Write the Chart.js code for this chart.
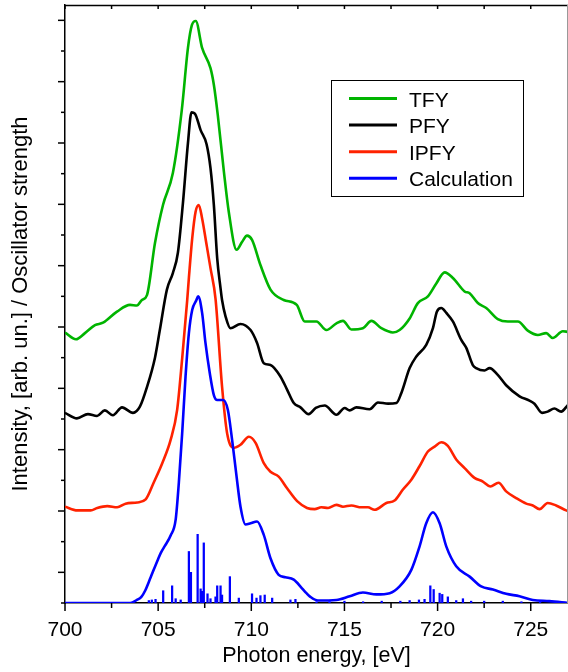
<!DOCTYPE html>
<html>
<head>
<meta charset="utf-8">
<style>
html,body{margin:0;padding:0;background:#fff;}
#wrap{width:568px;height:672px;position:relative;}
</style>
<script src="https://cdn.jsdelivr.net/npm/chart.js@4/dist/chart.umd.min.js"></script>
</head>
<body>
<div id="wrap"><canvas id="c" width="568" height="672"></canvas></div>
<script>
// ---- Data (photon energy in eV, intensity in arb. units incl. vertical offsets) ----
const tfyE = [700.00,700.59,701.07,701.61,702.04,702.79,703.49,703.86,704.13,704.40,704.83,705.26,705.79,706.27,706.60,706.81,707.02,707.36,707.81,707.99,708.20,708.53,708.79,709.21,709.51,709.77,710.04,710.49,711.03,711.74,712.44,712.87,713.50,714.03,714.57,714.92,715.37,715.99,716.45,716.98,717.60,717.96,718.50,718.94,719.48,719.93,720.38,720.82,721.45,721.72,722.16,722.61,723.23,723.77,724.31,724.84,725.38,725.83,726.18,726.72,727.00];
const tfyV = [4.41,4.30,4.40,4.53,4.57,4.75,4.86,4.85,4.94,5.02,5.87,6.49,7.01,8.04,9.05,9.42,9.49,9.05,8.72,8.45,7.96,7.03,6.38,5.76,5.89,5.99,5.92,5.51,5.11,4.94,4.86,4.59,4.59,4.45,4.56,4.60,4.46,4.48,4.60,4.48,4.41,4.45,4.64,4.89,5.00,5.21,5.39,5.30,5.08,5.05,4.89,4.81,4.63,4.59,4.59,4.44,4.37,4.40,4.32,4.43,4.42];

const pfyE = [700.00,700.64,701.23,701.72,702.14,702.57,703.06,703.65,704.02,704.40,704.83,705.09,705.47,705.79,706.06,706.33,706.60,706.79,706.97,707.28,707.60,707.81,707.99,708.17,708.35,708.43,708.62,708.88,709.42,709.96,710.31,710.67,711.03,711.57,711.92,712.28,712.64,713.08,713.46,713.94,714.57,715.01,715.28,715.64,716.35,716.80,717.34,717.79,718.05,718.50,718.86,719.39,719.75,719.96,720.20,720.47,720.82,721.27,721.54,721.89,722.07,722.52,722.79,723.23,723.68,724.40,724.93,725.20,725.61,725.91,726.27,726.63,727.00];
const pfyV = [3.10,3.01,3.08,3.05,3.14,3.06,3.19,3.10,3.20,3.52,4.00,4.45,5.11,5.38,5.71,6.52,7.50,8.00,7.98,7.71,7.48,7.09,6.49,5.62,5.13,4.94,4.67,4.48,4.55,4.45,4.24,3.91,3.88,3.69,3.48,3.26,3.19,3.08,3.18,3.22,3.07,3.18,3.14,3.19,3.16,3.27,3.25,3.26,3.42,3.83,4.02,4.21,4.48,4.75,4.81,4.73,4.59,4.29,4.16,3.88,3.83,3.79,3.83,3.72,3.55,3.37,3.30,3.25,3.10,3.12,3.17,3.12,3.23];

const ipfyE = [700.00,700.66,701.38,701.73,702.27,702.80,703.25,703.88,704.33,704.77,705.22,705.67,706.02,706.29,706.56,706.65,706.83,707.01,707.18,707.36,707.60,707.81,708.08,708.43,708.70,709.06,709.42,709.87,710.23,710.67,711.03,711.47,711.92,712.46,712.99,713.40,713.76,714.12,714.57,714.92,715.37,715.91,716.26,716.62,717.25,717.69,718.14,718.59,719.03,719.48,719.84,720.20,720.55,721.00,721.45,721.98,722.43,722.83,723.27,723.68,724.22,724.76,725.11,725.47,725.91,726.36,726.90,727.00];
const ipfyV = [1.57,1.51,1.51,1.55,1.58,1.56,1.62,1.64,1.69,1.97,2.28,2.66,3.15,3.99,4.94,5.30,5.95,6.38,6.49,6.27,5.84,5.46,4.96,3.53,2.77,2.53,2.58,2.71,2.61,2.28,2.14,2.06,1.87,1.66,1.55,1.53,1.56,1.55,1.60,1.57,1.59,1.56,1.56,1.52,1.63,1.67,1.85,2.01,2.23,2.47,2.55,2.62,2.56,2.34,2.20,2.04,1.98,1.90,1.96,1.82,1.71,1.62,1.59,1.53,1.63,1.59,1.51,1.50];

const calcE = [700.00,703.50,703.86,704.10,704.30,704.60,704.99,705.15,705.36,705.67,705.94,706.11,706.29,706.47,706.65,706.83,707.04,707.15,707.36,707.54,707.77,707.99,708.17,708.49,708.74,708.97,709.21,709.42,709.69,709.96,710.31,710.67,711.03,711.47,711.83,712.28,712.72,712.96,713.17,713.58,714.57,715.28,715.99,716.71,717.43,717.96,718.59,719.03,719.39,719.75,720.11,720.47,721.00,721.72,722.34,722.97,723.68,724.40,725.11,726.00,727.00];
const calcV = [0,0,0.05,0.10,0.20,0.42,0.71,0.82,0.93,1.10,1.36,1.96,2.77,3.69,4.40,4.78,4.93,5.00,4.73,4.24,3.75,3.39,3.31,3.31,3.15,2.66,2.06,1.57,1.28,1.30,1.33,1.11,0.73,0.46,0.42,0.38,0.24,0.16,0.10,0.04,0.05,0.11,0.17,0.14,0.16,0.27,0.54,0.92,1.30,1.48,1.30,0.92,0.60,0.43,0.27,0.22,0.15,0.11,0.05,0.03,0.00];

// oscillator strengths (stick spectrum)
const stickE = [704.50,704.66,704.86,705.27,705.75,705.94,706.21,706.65,706.76,707.12,707.28,707.35,707.45,707.65,707.81,708.08,708.17,708.35,708.43,708.85,709.33,710.04,710.28,710.49,710.72,711.12,712.10,712.37,713.50,714.20,715.00,716.00,717.00,718.00,718.50,719.00,719.30,719.61,719.79,720.11,720.25,720.55,721.00,721.36,721.80,722.50,723.50,724.50,725.50,726.50];
const stickS = [0.04,0.05,0.06,0.20,0.28,0.07,0.05,0.84,0.50,1.12,0.23,0.19,0.98,0.15,0.07,0.10,0.28,0.28,0.13,0.43,0.08,0.15,0.08,0.12,0.13,0.08,0.05,0.06,0.02,0.02,0.03,0.02,0.03,0.03,0.04,0.05,0.06,0.28,0.22,0.16,0.14,0.10,0.04,0.07,0.03,0.03,0.03,0.02,0.02,0.02];

const seriesLabels = ['TFY','PFY','IPFY','Calculation'];
const xMin = 700, xMax = 727, xMajor = 5, xMinor = 2.5;
const yMin = 0, yMax = 9.75, yStep = 0.5;
const xTitle = 'Photon energy, [eV]';
const yTitle = 'Intensity, [arb. un.] / Oscillator strength';

// ---- helpers ----
const zip = (xs, ys) => xs.map((x, i) => ({x, y: ys[i]}));
const FONT = '"Liberation Sans", Arial, Helvetica, sans-serif';
const isMult = (v, s) => Math.abs(v / s - Math.round(v / s)) < 1e-6;
const stepTicks = (lo, hi, step) => {
  const out = [];
  for (let k = 0; lo + k * step <= hi + 1e-9; k++) out.push({value: +(lo + k * step).toFixed(4)});
  return out;
};

const frame = {
  id: 'frame',
  afterDraw(chart) {
    const {ctx, chartArea: {left, right, top, bottom}, scales: {x, y}} = chart;
    ctx.save();
    ctx.strokeStyle = '#000';
    ctx.lineWidth = 1.5;
    // top border
    ctx.beginPath(); ctx.moveTo(left, top + 0.5); ctx.lineTo(right, top + 0.5); ctx.stroke();
    // x ticks (bottom outward, top inward)
    x.ticks.forEach(t => {
      if (!isMult(t.value, xMinor)) return;
      const px = x.getPixelForValue(t.value);
      const major = isMult(t.value, xMajor);
      ctx.beginPath();
      ctx.moveTo(px, bottom); ctx.lineTo(px, bottom + (major ? 8 : 5));
      ctx.moveTo(px, top); ctx.lineTo(px, top + 4);
      ctx.stroke();
    });
    // y ticks (outward); half-integer = long, integer = short
    y.ticks.forEach(t => {
      if (!isMult(t.value, yStep)) return;
      const py = y.getPixelForValue(t.value);
      const long = !isMult(t.value, 1);
      ctx.beginPath();
      ctx.moveTo(left, py); ctx.lineTo(left - (long ? 7 : 4), py);
      ctx.stroke();
    });
    // right border (faint)
    ctx.strokeStyle = '#999';
    ctx.lineWidth = 1;
    ctx.beginPath(); ctx.moveTo(right - 0.5, top); ctx.lineTo(right - 0.5, bottom); ctx.stroke();
    ctx.restore();
  }
};

const legendBox = {
  id: 'legendBox',
  afterDraw(chart) {
    const {ctx} = chart;
    const items = chart.data.datasets.filter(d => d.type === 'line');
    const bx = 331.5, by = 80.5, bw = 192, bh = 116;
    ctx.save();
    ctx.fillStyle = '#fff';
    ctx.fillRect(bx, by, bw, bh);
    ctx.strokeStyle = '#000';
    ctx.lineWidth = 1;
    ctx.strokeRect(bx, by, bw, bh);
    ctx.font = '21px ' + FONT;
    ctx.textBaseline = 'alphabetic';
    ctx.textAlign = 'left';
    items.forEach((d, i) => {
      const ry = 98.5 + i * 26.6;
      ctx.strokeStyle = d.borderColor;
      ctx.lineWidth = 3;
      ctx.beginPath(); ctx.moveTo(349, ry); ctx.lineTo(397, ry); ctx.stroke();
      ctx.fillStyle = '#000';
      ctx.fillText(d.label, 409, ry + 8);
    });
    ctx.restore();
  }
};

Chart.defaults.font.family = FONT;
Chart.defaults.color = '#000';

new Chart(document.getElementById('c'), {
  type: 'line',
  data: {
    datasets: [
      {type: 'line', label: seriesLabels[0], data: zip(tfyE, tfyV), borderColor: '#00b400', borderWidth: 2.6, pointRadius: 0, cubicInterpolationMode: 'monotone', order: 4},
      {type: 'line', label: seriesLabels[1], data: zip(pfyE, pfyV), borderColor: '#000000', borderWidth: 2.6, pointRadius: 0, cubicInterpolationMode: 'monotone', order: 3},
      {type: 'line', label: seriesLabels[2], data: zip(ipfyE, ipfyV), borderColor: '#ff2200', borderWidth: 2.6, pointRadius: 0, cubicInterpolationMode: 'monotone', order: 2},
      {type: 'line', label: seriesLabels[3], data: zip(calcE, calcV), borderColor: '#0000ff', borderWidth: 2.6, pointRadius: 0, cubicInterpolationMode: 'monotone', order: 1},
      {type: 'bar', label: 'sticks', data: zip(stickE, stickS), backgroundColor: '#0000ff', borderWidth: 0, barThickness: 1.6, grouped: false, order: 0}
    ]
  },
  options: {
    responsive: false,
    animation: false,
    events: [],
    layout: {padding: {top: 5, left: 0, right: 0, bottom: 0}},
    plugins: {legend: {display: false}, tooltip: {enabled: false}},
    scales: {
      x: {
        type: 'linear', min: xMin, max: xMax, offset: false, position: 'bottom',
        grid: {display: false, drawTicks: true, tickLength: 8},
        border: {display: true, color: '#000', width: 1.5},
        ticks: {autoSkip: false, maxRotation: 0, padding: 7, color: '#000',
                font: {size: 21}, callback: v => isMult(v, xMajor) ? String(v) : ''},
        afterBuildTicks(s) { s.ticks = stepTicks(xMin, xMax, xMinor); },
        title: {display: true, text: xTitle, color: '#000', font: {size: 21.5}, padding: {top: 0, bottom: 3}},
        afterFit(s) { s.height = 69; }
      },
      y: {
        type: 'linear', min: yMin, max: yMax,
        grid: {display: false, drawTicks: false},
        border: {display: true, color: '#000', width: 1.5},
        ticks: {display: false},
        afterBuildTicks(s) { s.ticks = stepTicks(yMin, yMax, yStep); },
        title: {display: true, text: yTitle, color: '#000', font: {size: 22}, padding: {top: 8, bottom: 0}},
        afterFit(s) { s.width = 65; }
      }
    }
  },
  plugins: [frame, legendBox]
});
</script>
</body>
</html>
